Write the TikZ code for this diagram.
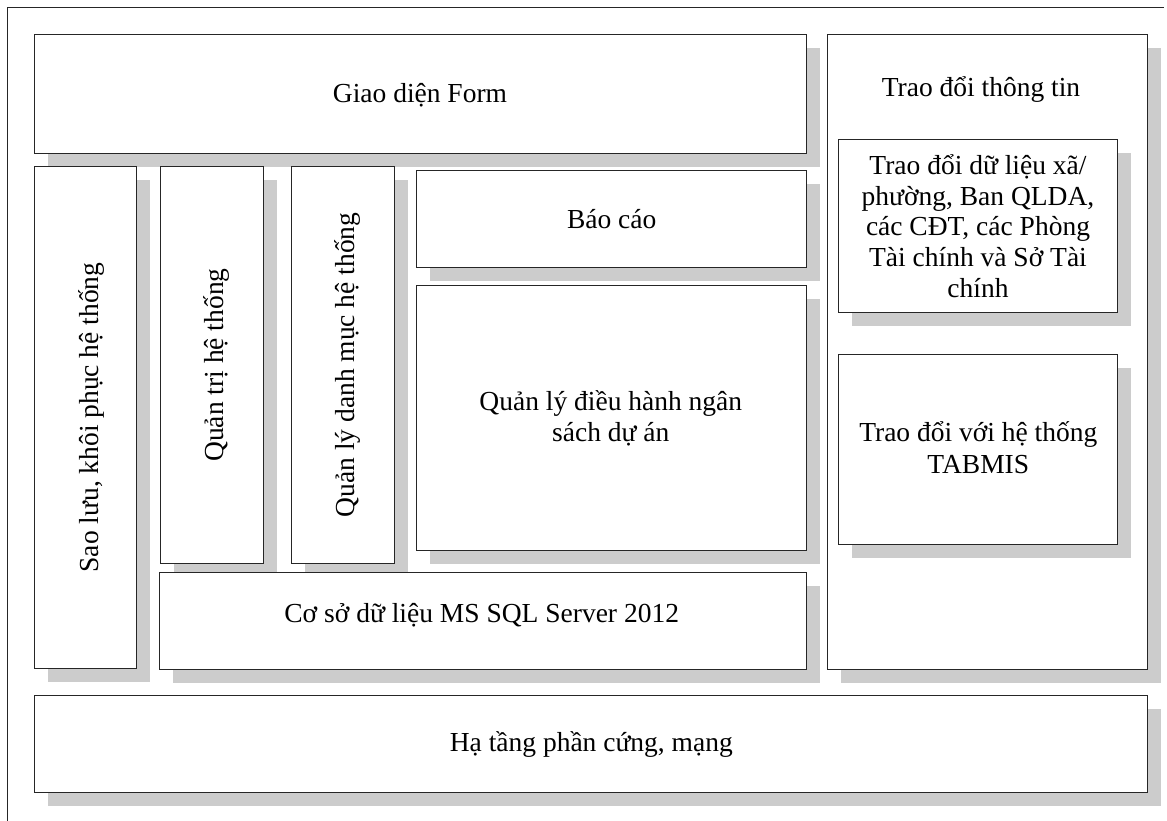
\documentclass[tikz,border=0pt]{standalone}
\usepackage{fontspec}
\setmainfont{Liberation Serif}
\usetikzlibrary{shadows}
\begin{document}
\begin{tikzpicture}[x=1pt,y=-1pt,
  box/.style={draw=black!85, fill=white, line width=1pt, inner sep=0pt, outer sep=0pt, anchor=north west,
    general shadow={fill=black!20, draw=none, shadow xshift=13.5pt, shadow yshift=-13.5pt}},
  lbl/.style={font=\fontsize{27.5}{31.6}\selectfont, inner sep=0pt, outer sep=0pt, align=center, anchor=base},
  vlbl/.style={lbl, rotate=90}]
\useasboundingbox (0,0) rectangle (1167,821);
% outer frame
\draw[line width=0.9pt, black!85] (7,821) -- (7,7.7) -- (1164,7.7);
% boxes (z-order: each shadow under its box)
\node[box, minimum width=772.2pt, minimum height=119.4pt] (giao) at (34.3,34.3) {};
\node[box, minimum width=320.3pt, minimum height=634.7pt] (trao) at (827,34.3) {};
\node[box, minimum width=278.7pt, minimum height=173.4pt] (tdl) at (838.3,139.3) {};
\node[box, minimum width=278.7pt, minimum height=190pt] (tabmis) at (838.3,354.3) {};
\node[box, minimum width=102.4pt, minimum height=501.6pt] (sao) at (34.3,166.7) {};
\node[box, minimum width=102.3pt, minimum height=396.6pt] (qtri) at (160.7,166.7) {};
\node[box, minimum width=102.3pt, minimum height=396.6pt] (qdm) at (291.7,166.7) {};
\node[box, minimum width=390pt, minimum height=96.7pt] (bao) at (416.7,171) {};
\node[box, minimum width=390pt, minimum height=264.3pt] (qldh) at (416.7,285.7) {};
\node[box, minimum width=647pt, minimum height=97pt] (csdl) at (159.7,572) {};
\node[box, minimum width=1113pt, minimum height=97.3pt] (ha) at (34.3,695) {};
% labels (multi-line labels are anchored at the baseline of their last line)
\node[lbl] (tgiao) at (420,102.3) {Giao diện Form};
\node[lbl] (ttrao) at (981,96.7) {Trao đổi thông tin};
\node[lbl, font=\fontsize{27.5}{30.8}\selectfont] (ttdl) at (978,297.5) {Trao đổi dữ liệu xã/\\phường, Ban QLDA,\\các CĐT, các Phòng\\Tài chính và Sở Tài\\chính};
\node[lbl] (ttabmis) at (978.3,473.3) {Trao đổi với hệ thống\\TABMIS};
\node[lbl] (tbao) at (611.7,229) {Báo cáo};
\node[lbl] (tqldh) at (610.8,441.7) {Quản lý điều hành ngân\\sách dự án};
\node[lbl] (tcsdl) at (481.7,622.3) {Cơ sở dữ liệu MS SQL Server 2012};
\node[lbl] (tha) at (591.3,751.7) {Hạ tầng phần cứng, mạng};
\node[vlbl] (tsao) at (98,417.5) {Sao lưu, khôi phục hệ thống};
\node[vlbl] (tqtri) at (223,365) {Quản trị hệ thống};
\node[vlbl] (tqdm) at (354,365) {Quản lý danh mục hệ thống};
\end{tikzpicture}
\end{document}
